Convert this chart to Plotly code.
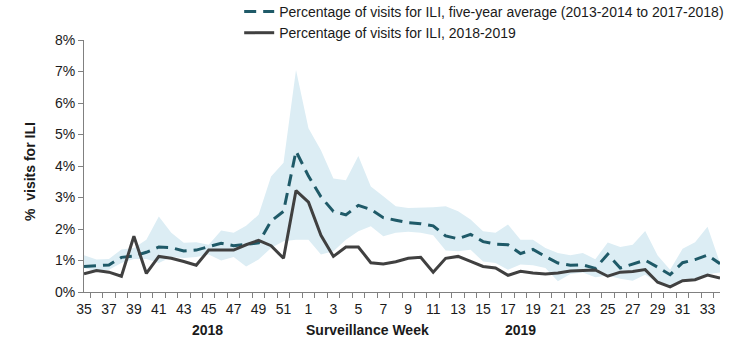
import plotly.graph_objects as go

weeks = [str(w) for w in range(35, 53)] + [str(w) for w in range(1, 35)]

actual_2018_2019 = [
    0.58, 0.68, 0.63, 0.50, 1.77, 0.59, 1.13, 1.07, 0.97, 0.85, 1.33, 1.33, 1.33, 1.50, 1.64, 1.47, 1.07, 3.22,
    2.85, 1.80, 1.13, 1.43, 1.43, 0.93, 0.89, 0.96, 1.07, 1.10, 0.63, 1.07, 1.13, 0.97, 0.81, 0.76, 0.53, 0.66,
    0.60, 0.57, 0.60, 0.67, 0.68, 0.70, 0.50, 0.63, 0.65, 0.71, 0.31, 0.16, 0.36, 0.39, 0.54, 0.44,
]

five_year_avg = [
    0.81, 0.84, 0.86, 1.10, 1.14, 1.26, 1.43, 1.41, 1.30, 1.33, 1.43, 1.55, 1.47, 1.52, 1.56, 2.25, 2.56, 4.47,
    3.68, 3.02, 2.56, 2.45, 2.75, 2.62, 2.36, 2.28, 2.20, 2.17, 2.10, 1.78, 1.69, 1.83, 1.60, 1.52, 1.50, 1.22,
    1.35, 1.13, 0.92, 0.85, 0.86, 0.75, 1.20, 0.76, 0.88, 1.01, 0.79, 0.55, 0.93, 1.03, 1.17, 0.90,
]

band_upper = [
    1.17, 1.03, 1.05, 1.35, 1.40, 1.66, 2.40, 1.88, 1.56, 1.58, 1.50, 1.95, 1.88, 2.10, 2.45, 3.67, 4.10, 7.05,
    5.20, 4.50, 3.60, 3.55, 4.32, 3.35, 3.04, 2.72, 2.67, 2.67, 2.69, 2.72, 2.56, 2.30, 1.93, 1.88, 2.14, 1.66,
    1.66, 1.40, 1.24, 1.17, 1.24, 1.04, 1.57, 1.43, 1.50, 1.94, 1.16, 0.71, 1.37, 1.58, 2.07, 0.92,
]

band_lower = [
    0.76, 0.66, 0.71, 0.92, 1.05, 1.05, 0.92, 1.11, 1.08, 1.11, 1.19, 1.00, 1.11, 0.81, 1.03, 1.40, 1.61, 1.66,
    1.66, 1.19, 1.29, 1.66, 1.93, 2.09, 1.77, 1.88, 1.91, 1.88, 1.80, 1.32, 1.29, 1.34, 0.97, 0.92, 0.71, 0.87,
    0.85, 0.76, 0.34, 0.57, 0.62, 0.47, 0.52, 0.42, 0.36, 0.55, 0.30, 0.18, 0.40, 0.42, 0.56, 0.62,
]

tick_text = [w if i % 2 == 0 else "" for i, w in enumerate(weeks)]
y_ticks = [0, 1, 2, 3, 4, 5, 6, 7, 8]
y_tick_text = [f"{v}%" for v in y_ticks]

FONT = "Liberation Sans, Arial, sans-serif"

fig = go.Figure()
fig.add_trace(go.Scatter(x=weeks, y=band_lower, mode="lines", line=dict(width=0),
                         showlegend=False, hoverinfo="skip"))
fig.add_trace(go.Scatter(x=weeks, y=band_upper, mode="lines", line=dict(width=0),
                         fill="tonexty", fillcolor="#DCEDF4", showlegend=False, hoverinfo="skip"))
fig.add_trace(go.Scatter(x=weeks, y=five_year_avg, mode="lines",
                         name="Percentage of visits for ILI, five-year average (2013-2014 to 2017-2018)",
                         line=dict(color="#1F5A68", width=3, dash="12px,7px")))
fig.add_trace(go.Scatter(x=weeks, y=actual_2018_2019, mode="lines",
                         name="Percentage of visits for ILI, 2018-2019",
                         line=dict(color="#404040", width=3)))

fig.update_layout(
    width=739, height=342,
    margin=dict(l=84, r=19, t=40, b=50, autoexpand=False),
    paper_bgcolor="white", plot_bgcolor="white",
    font=dict(family=FONT, size=14, color="#1a1a1a"),
    showlegend=True,
    legend=dict(x=0.244, y=1.175, xanchor="left", yanchor="top", orientation="v",
                traceorder="normal", bgcolor="rgba(0,0,0,0)", font=dict(size=14, family=FONT),
                tracegroupgap=0, itemwidth=30),
    xaxis=dict(type="category", categoryorder="array", categoryarray=weeks,
               tickmode="array", tickvals=weeks, ticktext=tick_text,
               tickson="boundaries", ticks="outside", ticklen=5, tickcolor="#808080",
               showline=True, linecolor="#808080", linewidth=1, showgrid=False,
               ticklabelstandoff=4,
               tickfont=dict(size=14, family=FONT), tickangle=0, zeroline=False),
    yaxis=dict(range=[0, 8], tickmode="array", tickvals=y_ticks, ticktext=y_tick_text,
               ticks="outside", ticklen=5, tickcolor="#808080",
               showline=True, linecolor="#808080", linewidth=1, showgrid=False,
               zeroline=False, tickfont=dict(size=14, family=FONT)),
    annotations=[
        dict(text="<b>%  visits for ILI</b>", x=-0.085, y=0.48, xref="paper", yref="paper",
             xanchor="center", yanchor="middle",
             textangle=-90, showarrow=False, font=dict(size=14, family=FONT)),
        dict(text="<b>2018</b>", x=(207 - 84) / 636, y=-0.152, xref="paper", yref="paper",
             showarrow=False, xanchor="center", yanchor="middle", font=dict(size=14, family=FONT)),
        dict(text="<b>Surveillance Week</b>", x=(367 - 84) / 636, y=-0.152, xref="paper", yref="paper",
             showarrow=False, xanchor="center", yanchor="middle", font=dict(size=14, family=FONT)),
        dict(text="<b>2019</b>", x=(520 - 84) / 636, y=-0.152, xref="paper", yref="paper",
             showarrow=False, xanchor="center", yanchor="middle", font=dict(size=14, family=FONT)),
    ],
)

fig.write_html("out.html")
